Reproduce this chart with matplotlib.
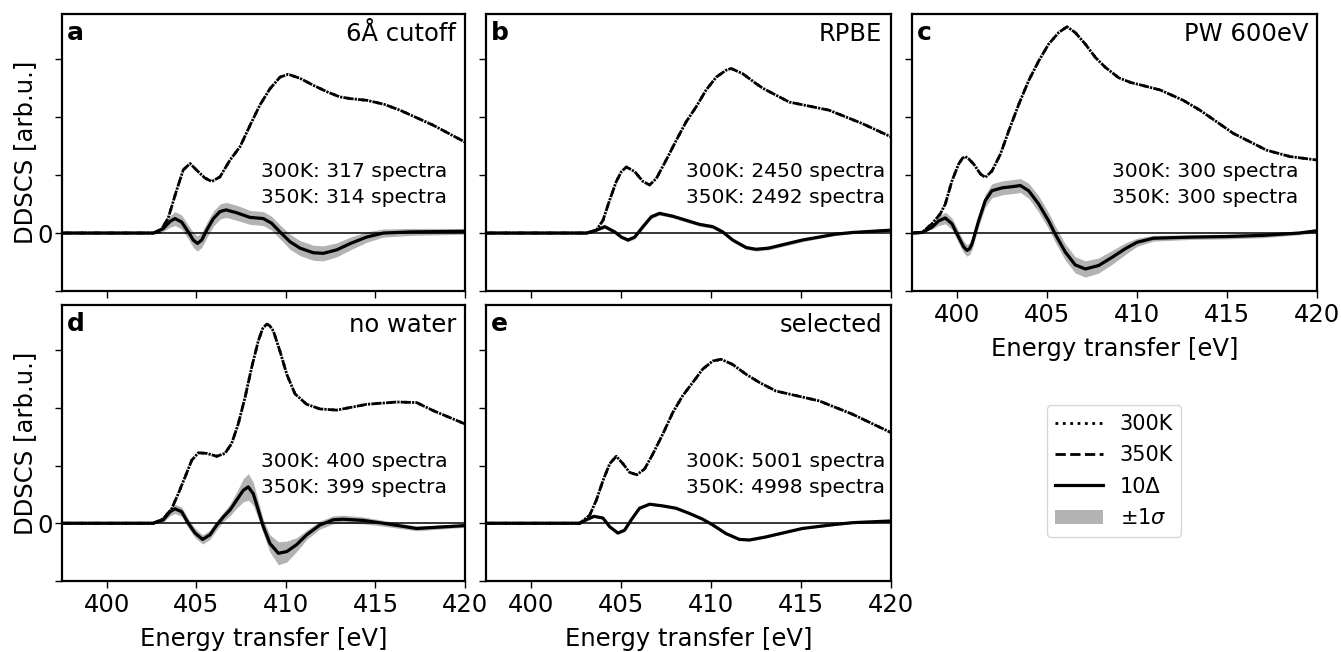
import numpy as np
import matplotlib
matplotlib.use('Agg')
import matplotlib.pyplot as plt
from matplotlib.lines import Line2D
from matplotlib.patches import Patch

# ---- panel a : 6A cutoff ----
a_e350 = [397.5, 402.6, 402.97, 403.43, 403.9, 404.27, 404.65, 405.1, 405.48, 405.86, 406.32, 406.88,
          407.44, 408.0, 408.55, 409.11, 409.67, 410.13, 410.79, 411.53, 412.28, 413.0, 413.6, 414.53,
          415.5, 416.37, 418.23, 420.0]
a_s350 = [0, 0, 0.02, 0.26, 0.74, 1.09, 1.2, 1.06, 0.95, 0.89, 0.97, 1.26,
          1.49, 1.86, 2.21, 2.49, 2.69, 2.74, 2.67, 2.55, 2.44, 2.35, 2.32, 2.29,
          2.22, 2.12, 1.86, 1.57]
a_s300 = a_s350  # 300K and 350K coincide at this scale
a_ed = [397.5, 402.6, 403.16, 403.53, 403.81, 404.18, 404.55, 404.83, 405.06, 405.3, 405.58, 405.95,
        406.32, 406.66, 407.25, 408.0, 408.74, 409.2, 409.67, 410.23, 410.79, 411.53, 412.09, 412.84,
        413.6, 414.5, 415.44, 417.0, 420.0]
a_d = [0, 0, 0.08, 0.2, 0.25, 0.19, 0.02, -0.12, -0.18, -0.12, 0.05, 0.25,
       0.37, 0.4, 0.35, 0.27, 0.25, 0.17, 0.02, -0.15, -0.26, -0.34, -0.35, -0.29,
       -0.18, -0.07, 0.0, 0.02, 0.03]
a_sig = [0, 0, 0.05, 0.1, 0.12, 0.12, 0.12, 0.13, 0.13, 0.13, 0.13, 0.13,
         0.13, 0.13, 0.13, 0.12, 0.12, 0.12, 0.12, 0.13, 0.13, 0.13, 0.13, 0.12,
         0.11, 0.09, 0.07, 0.06, 0.05]

# ---- panel b : RPBE ----
b_e350 = [397.5, 403.2, 403.63, 404.0, 404.37, 404.74, 405.02, 405.3, 405.76, 406.22, 406.59, 406.96,
          407.51, 408.07, 408.62, 409.18, 409.73, 410.29, 410.84, 411.12, 411.76, 412.5, 412.87, 414.35,
          416.56, 418.4, 420.0]
b_s350 = [0, 0, 0.05, 0.22, 0.57, 0.89, 1.06, 1.14, 1.06, 0.89, 0.83, 0.94,
          1.26, 1.6, 1.92, 2.18, 2.47, 2.69, 2.81, 2.84, 2.75, 2.58, 2.5, 2.26,
          2.12, 1.89, 1.66]
b_s300 = b_s350
b_ed = [397.5, 403.08, 403.63, 404.1, 404.65, 405.02, 405.39, 405.76, 406.22, 406.68, 407.14, 407.88,
        408.62, 409.36, 410.1, 410.65, 411.2, 411.95, 412.5, 413.2, 415.08, 416.9, 417.86, 420.0]
b_d = [0, 0, 0.05, 0.11, 0.02, -0.07, -0.12, -0.07, 0.11, 0.28, 0.34, 0.29,
       0.22, 0.15, 0.11, 0.02, -0.12, -0.25, -0.28, -0.26, -0.12, -0.02, 0.01, 0.05]
b_sig = [0, 0, 0.02, 0.03, 0.03, 0.03, 0.03, 0.03, 0.03, 0.03, 0.03, 0.03,
         0.03, 0.03, 0.03, 0.03, 0.03, 0.03, 0.03, 0.03, 0.03, 0.02, 0.02, 0.02]

# ---- panel c : PW 600eV ----
c_e350 = [397.5, 398.06, 398.61, 399.07, 399.35, 399.72, 400.09, 400.3, 400.46, 400.65, 400.93, 401.3,
          401.57, 401.94, 402.41, 402.87, 403.43, 403.98, 404.54, 405.09, 405.65, 406.11, 406.57, 407.13,
          407.69, 408.24, 408.98, 409.63, 411.28, 412.57, 413.5, 415.35, 417.2, 418.5, 420.0]
c_s350 = [0, 0.01, 0.16, 0.33, 0.5, 0.9, 1.19, 1.29, 1.32, 1.28, 1.19, 1.02,
          0.96, 1.07, 1.36, 1.76, 2.22, 2.63, 2.97, 3.26, 3.46, 3.56, 3.46, 3.26,
          3.03, 2.86, 2.68, 2.6, 2.47, 2.29, 2.12, 1.72, 1.43, 1.32, 1.26]
c_s300 = c_s350
c_ed = [397.5, 398.06, 398.61, 398.98, 399.35, 399.72, 400.09, 400.37, 400.56, 400.7, 400.83, 401.2,
        401.57, 401.94, 402.5, 403.06, 403.52, 403.98, 404.54, 405.09, 405.46, 406.02, 406.57, 407.13,
        407.87, 408.61, 409.35, 410.0, 410.9, 413.0, 415.0, 417.0, 419.0, 420.0]
c_d = [0, 0.01, 0.1, 0.21, 0.26, 0.16, -0.07, -0.24, -0.3, -0.27, -0.19, 0.21,
       0.56, 0.73, 0.78, 0.8, 0.82, 0.73, 0.5, 0.21, -0.02, -0.33, -0.55, -0.62,
       -0.56, -0.42, -0.27, -0.16, -0.09, -0.07, -0.06, -0.04, 0.0, 0.04]
c_sig = [0, 0.01, 0.03, 0.08, 0.1, 0.1, 0.1, 0.1, 0.1, 0.1, 0.1, 0.1,
         0.11, 0.12, 0.12, 0.12, 0.12, 0.13, 0.14, 0.14, 0.14, 0.14, 0.14, 0.14,
         0.13, 0.12, 0.1, 0.07, 0.05, 0.04, 0.04, 0.04, 0.03, 0.03]

# ---- panel d : no water ----
d_e350 = [397.5, 402.6, 403.16, 403.62, 403.99, 404.37, 404.74, 405.11, 405.58, 406.14, 406.6, 406.97,
          407.34, 407.72, 408.09, 408.46, 408.7, 408.93, 409.1, 409.3, 409.67, 410.05, 410.51, 411.16,
          411.9, 412.84, 414.51, 416.19, 417.3, 418.23, 420.0]
d_s350 = [0, 0, 0.08, 0.25, 0.51, 0.8, 1.09, 1.22, 1.21, 1.16, 1.21, 1.38,
          1.72, 2.18, 2.7, 3.16, 3.37, 3.45, 3.42, 3.33, 2.98, 2.58, 2.24, 2.06,
          1.98, 1.96, 2.06, 2.1, 2.09, 1.95, 1.72]
d_s300 = d_s350
d_ed = [397.5, 402.6, 403.16, 403.53, 403.81, 404.18, 404.55, 404.93, 405.35, 405.76, 406.14, 406.51,
        406.88, 407.25, 407.62, 407.9, 408.18, 408.46, 408.74, 409.11, 409.58, 410.05, 410.6, 411.16,
        411.9, 412.65, 413.2, 414.3, 415.44, 417.3, 420.0]
d_d = [0, 0, 0.06, 0.2, 0.25, 0.2, 0.0, -0.17, -0.28, -0.2, -0.03, 0.11,
       0.23, 0.4, 0.57, 0.63, 0.51, 0.23, -0.06, -0.35, -0.52, -0.49, -0.37, -0.2,
       -0.03, 0.06, 0.07, 0.05, 0.0, -0.09, -0.04]
d_sig = [0, 0, 0.04, 0.07, 0.08, 0.08, 0.08, 0.08, 0.08, 0.08, 0.08, 0.08,
         0.1, 0.14, 0.2, 0.23, 0.2, 0.15, 0.12, 0.15, 0.2, 0.18, 0.12, 0.08,
         0.07, 0.07, 0.07, 0.06, 0.05, 0.04, 0.03]

# ---- panel e : selected ----
e_e350 = [397.5, 402.71, 403.26, 403.63, 404.0, 404.37, 404.74, 405.11, 405.48, 405.88, 406.31, 406.77,
          407.33, 407.88, 408.43, 408.99, 409.54, 410.1, 410.56, 411.2, 411.95, 412.68, 413.61, 416.0,
          417.85, 420.0]
e_s350 = [0, 0, 0.14, 0.4, 0.74, 1.03, 1.16, 1.03, 0.88, 0.84, 0.94, 1.2,
          1.55, 1.92, 2.21, 2.44, 2.67, 2.81, 2.84, 2.75, 2.58, 2.44, 2.29, 2.12,
          1.89, 1.57]
e_s300 = e_s350
e_ed = [397.5, 402.71, 403.08, 403.5, 404.0, 404.37, 404.83, 405.2, 405.57, 406.03, 406.59, 407.33,
        408.06, 408.8, 409.54, 410.1, 410.84, 411.58, 412.14, 413.0, 415.08, 416.9, 417.86, 420.0]
e_d = [0, 0, 0.06, 0.12, 0.09, -0.06, -0.17, -0.12, 0.06, 0.26, 0.33, 0.3,
       0.26, 0.17, 0.07, -0.03, -0.18, -0.28, -0.29, -0.24, -0.09, -0.02, 0.01, 0.04]
e_sig = [0, 0, 0.01, 0.015, 0.015, 0.015, 0.015, 0.015, 0.015, 0.015, 0.015, 0.015,
         0.015, 0.015, 0.015, 0.015, 0.015, 0.015, 0.015, 0.015, 0.015, 0.015, 0.015, 0.015]

letters = ['a', 'b', 'c', 'd', 'e']
titles = ['6Å cutoff', 'RPBE', 'PW 600eV', 'no water', 'selected']
counts300 = [317, 2450, 300, 400, 5001]
counts350 = [314, 2492, 300, 399, 4998]

panels = [(a_e350, a_s300, a_s350, a_ed, a_d, a_sig),
          (b_e350, b_s300, b_s350, b_ed, b_d, b_sig),
          (c_e350, c_s300, c_s350, c_ed, c_d, c_sig),
          (d_e350, d_s300, d_s350, d_ed, d_d, d_sig),
          (e_e350, e_s300, e_s350, e_ed, e_d, e_sig)]

W, H = 1341, 652
fig = plt.figure(figsize=(W / 100, H / 100), dpi=100)

# axes boxes in pixels: left, top, right, bottom
boxes = [(62, 14, 465, 291), (486, 14, 891, 291), (912, 14, 1317, 291),
         (62, 305, 465, 581), (486, 305, 891, 581)]

for i, (box, pan) in enumerate(zip(boxes, panels)):
    l, t, r, b = box
    ax = fig.add_axes([l / W, 1 - b / H, (r - l) / W, (b - t) / H])
    e350, s300, s350, ed, dd, sig = pan
    ed = np.array(ed)
    dd = np.array(dd)
    sig = np.array(sig)

    ax.axhline(0, color='k', lw=1.1, zorder=2)
    ax.fill_between(ed, dd - sig, dd + sig, color='0.7', lw=0, zorder=1)
    ax.plot(e350, s350, color='k', ls='--', lw=2, zorder=3)
    # dots shifted so that they land in the gaps of the dashes
    ax.plot(e350, s300, color='k', ls=(1.2, (0.8, 1.85)), lw=2, zorder=3)
    ax.plot(ed, dd, color='k', ls='-', lw=2.3, zorder=4)

    ax.set_xlim(397.5, 420)
    ax.set_ylim(-1, 3.78)
    ax.set_xticks([400, 405, 410, 415, 420])
    ax.set_yticks([-1, 0, 1, 2, 3])
    ax.tick_params(direction='out', length=5, width=1, labelsize=17.5)
    ax.tick_params(axis='x', pad=4)
    ax.tick_params(axis='y', pad=1.5)
    for s in ax.spines.values():
        s.set_linewidth(1.6)

    if i in (0, 3):
        ax.set_yticklabels(['', '0', '', '', ''])
        ax.set_ylabel('DDSCS [arb.u.]', fontsize=17.5, labelpad=0)
    else:
        ax.set_yticklabels([])
    if i in (2, 3, 4):
        ax.set_xlabel('Energy transfer [eV]', fontsize=17.5, labelpad=7)
    else:
        ax.set_xticklabels([])

    ax.text(0.012, 0.975, letters[i], transform=ax.transAxes, fontsize=18,
            fontweight='bold', ha='left', va='top')
    ax.text(0.978, 0.97, titles[i], transform=ax.transAxes, fontsize=17.5,
            ha='right', va='top')
    ax.text(0.495, 0.385, '300K: %d spectra\n350K: %d spectra' % (counts300[i], counts350[i]),
            transform=ax.transAxes, fontsize=14.6, ha='left', va='center', linespacing=1.45)

handles = [Line2D([], [], color='k', ls=':', lw=2),
           Line2D([], [], color='k', ls='--', lw=2),
           Line2D([], [], color='k', ls='-', lw=2.3),
           Patch(facecolor='0.7', edgecolor='none')]
labels = ['300K', '350K', '10Δ', '±1$\\sigma$']
fig.legend(handles, labels, loc='center', bbox_to_anchor=(1114 / W, 1 - 471 / H),
           fontsize=15, handlelength=2.3, labelspacing=0.55, handletextpad=0.8)

fig.savefig('out.png', dpi=100)
